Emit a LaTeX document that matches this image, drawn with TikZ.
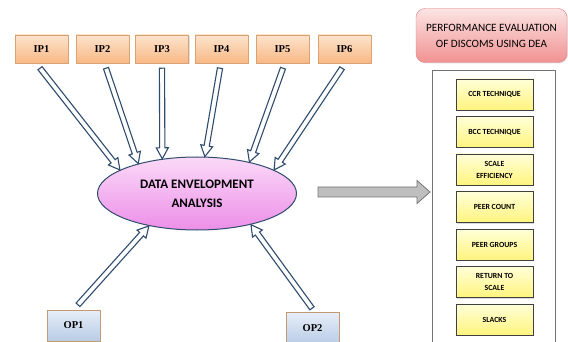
\documentclass[tikz,border=0pt]{standalone}
\usepackage{fontspec}
\setmainfont{Liberation Serif}
\newfontfamily\calib{Carlito}
\usetikzlibrary{calc,shapes.geometric,shadows}
\definecolor{arrblue}{HTML}{2F4B6E}
\definecolor{ipborder}{HTML}{D9A273}
\definecolor{iptop}{HTML}{FDE3CC}
\definecolor{ipbot}{HTML}{F8B985}
\definecolor{optop}{HTML}{E6EEF8}
\definecolor{opbot}{HTML}{B9CCE6}
\definecolor{opborder}{HTML}{C39A72}
\definecolor{deatop}{HTML}{FBD9F8}
\definecolor{deabot}{HTML}{EC8FE8}
\definecolor{ttop}{HTML}{FCE4E4}
\definecolor{tbot}{HTML}{F19191}
\definecolor{tborder}{HTML}{E07B7B}
\definecolor{ytop}{HTML}{FFFFD8}
\definecolor{ybot}{HTML}{FFF47E}
\tikzset{
  ipbox/.style={draw=ipborder, top color=iptop, bottom color=ipbot, minimum width=53pt, minimum height=28pt, inner sep=0pt, font=\bfseries\fontsize{10.5}{12}\selectfont, drop shadow={shadow xshift=1pt, shadow yshift=-1pt, opacity=0.25}},
  opbox/.style={draw=opborder, top color=optop, bottom color=opbot, minimum width=53pt, minimum height=31pt, inner sep=0pt, font=\bfseries\fontsize{10.5}{12}\selectfont},
  deanode/.style={ellipse, draw=arrblue, line width=1pt, top color=deatop, bottom color=deabot, minimum width=199pt, minimum height=73pt, inner sep=0pt, align=center, font=\calib\bfseries\fontsize{13}{19}\selectfont},
  hollow/.style={draw=arrblue, fill=white, line width=1.1pt, line join=miter},
  titlebox/.style={draw=tborder, rounded corners=9pt, top color=ttop, bottom color=tbot, minimum width=151pt, minimum height=54pt, align=center, font=\calib\fontsize{11.2}{16}\selectfont, drop shadow={shadow xshift=1pt, shadow yshift=-1pt, opacity=0.2}},
  ybox/.style={draw=black!75, top color=ytop, bottom color=ybot, minimum width=77pt, minimum height=31pt, inner sep=0pt, align=center, font=\calib\bfseries\fontsize{7.8}{12}\selectfont, drop shadow={shadow xshift=1pt, shadow yshift=-1pt, opacity=0.3}},
  grayarr/.style={draw=black!55, fill=black!25, line width=0.8pt, line join=miter}
}
\newcommand\hollowarr[2]{%
  \coordinate (hh) at ($(#2)!11pt!(#1)$);
  \draw[hollow] ($(#1)!2.6pt!90:(#2)$) -- ($(hh)!2.6pt!90:(#2)$) -- ($(hh)!6pt!90:(#2)$) -- (#2) -- ($(hh)!6pt!-90:(#2)$) -- ($(hh)!2.6pt!-90:(#2)$) -- ($(#1)!2.6pt!-90:(#2)$) -- cycle;}
\begin{document}
\begin{tikzpicture}[x=1pt,y=-1pt]
\useasboundingbox (0,0) rectangle (568,342);
% inputs
\node[ipbox] (ip1) at (41.5,49) {IP1};
\node[ipbox] (ip2) at (102.5,49) {IP2};
\node[ipbox] (ip3) at (162,49) {IP3};
\node[ipbox] (ip4) at (221.5,49) {IP4};
\node[ipbox] (ip5) at (282.5,49) {IP5};
\node[ipbox] (ip6) at (344.5,49) {IP6};
% DEA
\node[deanode] (dea) at (197,193.5) {DATA ENVELOPMENT\\ANALYSIS};
% outputs
\node[opbox] (op1) at (73.5,325.5) {OP1};
\node[opbox] (op2) at (312.5,328) {OP2};
% arrow start coordinates
\coordinate (s1) at ($(ip1.south)+(-1.5,5)$);
\coordinate (s2) at ($(ip2.south)+(3.5,5)$);
\coordinate (s3) at ($(ip3.south)+(0,5)$);
\coordinate (s4) at ($(ip4.south)+(-1.5,5)$);
\coordinate (s5) at ($(ip5.south)+(0.5,5)$);
\coordinate (s6) at ($(ip6.south)+(-2.5,5)$);
\coordinate (s7) at ($(op1.north)+(4.5,-5)$);
\coordinate (s8) at ($(op2.north)+(-0.5,-4)$);
\hollowarr{s1}{dea.163.8}
\hollowarr{s2}{dea.153.4}
\hollowarr{s3}{dea.135}
\hollowarr{s4}{dea.78}
\hollowarr{s5}{dea.31.3}
\hollowarr{s6}{dea.17.4}
\hollowarr{s7}{dea.214}
\hollowarr{s8}{dea.330}
% right panel
\node[titlebox] (title) at (491.5,35.5) {PERFORMANCE EVALUATION\\OF DISCOMS USING DEA};
\draw[black!55, line width=0.8pt] (432,345) -- (432,70) -- (555,70) -- (555,345);
\coordinate (panel) at (432,192);
\node[ybox] (b1) at (494.5,94.5) {CCR TECHNIQUE};
\node[ybox] (b2) at (494.5,132) {BCC TECHNIQUE};
\node[ybox] (b3) at (494.5,169.5) {SCALE\\EFFICIENCY};
\node[ybox] (b4) at (494.5,207) {PEER COUNT};
\node[ybox] (b5) at (494.5,244.5) {PEER GROUPS};
\node[ybox] (b6) at (494.5,282) {RETURN TO\\SCALE};
\node[ybox] (b7) at (494.5,319.5) {SLACKS};
% gray arrow
\coordinate (g0) at (318,192);
\draw[grayarr] (g0) ++(0,-5) -- (417,187) -- (417,180.5) -- ($(panel)+(-2,0)$) -- (417,203.5) -- (417,197) -- ($(g0)+(0,5)$) -- cycle;
\end{tikzpicture}
\end{document}
